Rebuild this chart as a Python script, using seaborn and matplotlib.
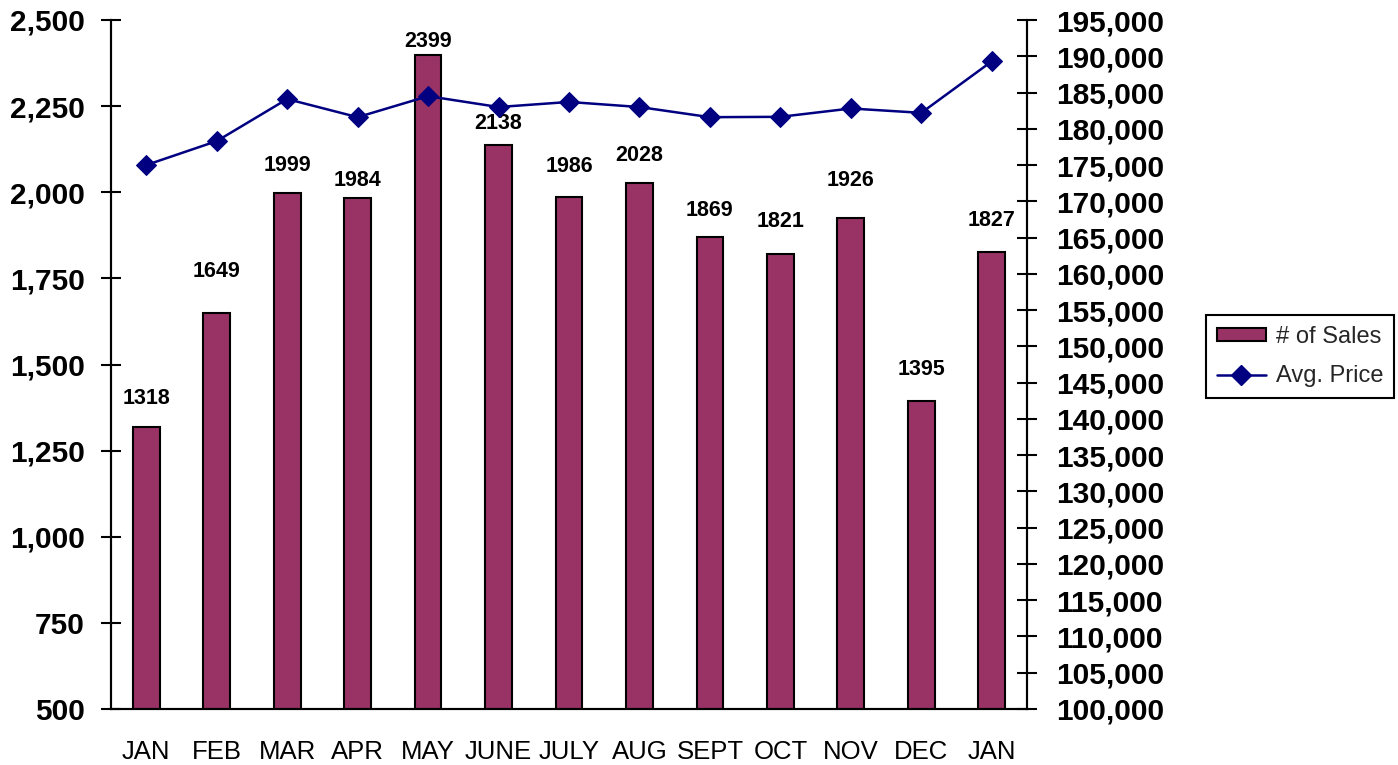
import matplotlib
matplotlib.use("Agg")
import matplotlib.pyplot as plt
import seaborn as sns
import numpy as np
import pandas as pd
from matplotlib.patches import Patch
from matplotlib.lines import Line2D
from matplotlib.ticker import FuncFormatter, FixedLocator, NullFormatter

months = ["JAN", "FEB", "MAR", "APR", "MAY", "JUNE", "JULY", "AUG", "SEPT", "OCT", "NOV", "DEC", "JAN"]
sales = [1318, 1649, 1999, 1984, 2399, 2138, 1986, 2028, 1869, 1821, 1926, 1395, 1827]
avg_price = [175000, 178300, 184100, 181600, 184500, 183000, 183700, 183000, 181600, 181650, 182800, 182200, 189300]
# vertical offset (pixels) of each value label above its bar top
label_offsets = [29, 42, 27, 17, 13, 21, 31, 27, 27, 32, 37, 31, 31]

bar_color = "#993366"
line_color = "#000080"

sns.set_theme(style="white")
plt.rcParams["font.family"] = ["Liberation Sans", "DejaVu Sans"]

pos = list(range(len(months)))
df = pd.DataFrame({"pos": pos, "month": months, "sales": sales, "price": avg_price})

fig = plt.figure(figsize=(13.98, 7.65), dpi=100)
ax = fig.add_axes([111 / 1398, 1 - 709 / 765, (1027 - 111) / 1398, (709 - 20) / 765])

sns.barplot(data=df, x="pos", y="sales", color=bar_color, width=0.38,
            edgecolor="black", linewidth=1.5, saturation=1, ax=ax)
ax.set_xlim(-0.5, len(months) - 0.5)
ax.set_ylim(500, 2500)
ax.set_yticks(np.arange(500, 2501, 250))
ax.yaxis.set_major_formatter(FuncFormatter(lambda v, p: f"{int(v):,}"))

# category boundary ticks (major, unlabeled) and labels at centers (minor)
ax.xaxis.set_major_locator(FixedLocator(np.arange(-0.5, len(months), 1.0)))
ax.xaxis.set_major_formatter(NullFormatter())
ax.xaxis.set_minor_locator(FixedLocator(pos))
ax.set_xticklabels(months, minor=True)
ax.tick_params(axis="x", which="major", direction="inout", length=14, width=1.5, color="black")
ax.tick_params(axis="x", which="minor", length=0, pad=22, labelsize=18.5, labelcolor="black")
ax.tick_params(axis="y", direction="inout", length=14, width=1.5, color="black",
               labelsize=21.5, labelcolor="black", pad=12)
for lbl in ax.get_yticklabels():
    lbl.set_fontweight("bold")
ax.set_xlabel("")
ax.set_ylabel("")

for x, v, off in zip(pos, sales, label_offsets):
    ax.annotate(f"{v}", (x, v), xytext=(0, off), textcoords="offset pixels",
                ha="center", va="center", fontsize=15.5, fontweight="bold", color="black")

ax.spines["top"].set_visible(False)
for side in ["left", "bottom", "right"]:
    ax.spines[side].set_color("black")
    ax.spines[side].set_linewidth(1.5)

ax2 = ax.twinx()
sns.lineplot(data=df, x="pos", y="price", ax=ax2, color=line_color, linewidth=1.8,
             marker="D", markersize=10, markeredgecolor=line_color, legend=False)
ax2.set_ylim(100000, 195000)
ax2.set_yticks(np.arange(100000, 195001, 5000))
ax2.yaxis.set_major_formatter(FuncFormatter(lambda v, p: f"{int(v):,}"))
ax2.tick_params(axis="y", direction="inout", length=14, width=1.5, color="black",
                labelsize=21.5, labelcolor="black", pad=14)
for lbl in ax2.get_yticklabels():
    lbl.set_fontweight("bold")
ax2.set_xlabel("")
ax2.set_ylabel("")
ax2.spines["top"].set_visible(False)
for side in ["left", "bottom", "right"]:
    ax2.spines[side].set_color("black")
    ax2.spines[side].set_linewidth(1.5)
ax2.set_xlim(-0.5, len(months) - 0.5)

handles = [
    Patch(facecolor=bar_color, edgecolor="black", linewidth=1.5),
    Line2D([0], [0], color=line_color, linewidth=1.8, marker="D", markersize=10),
]
leg = fig.legend(handles, ["# of Sales", "Avg. Price"], loc="upper left",
                 bbox_to_anchor=(1206 / 1398, 1 - 315 / 765), borderaxespad=0,
                 fontsize=17, frameon=True, fancybox=False, framealpha=1, edgecolor="black",
                 handlelength=2.1, handleheight=0.5, handletextpad=0.4,
                 labelspacing=0.75, borderpad=0.45)
leg.get_frame().set_linewidth(1.5)

fig.savefig("out.png", dpi=100)
